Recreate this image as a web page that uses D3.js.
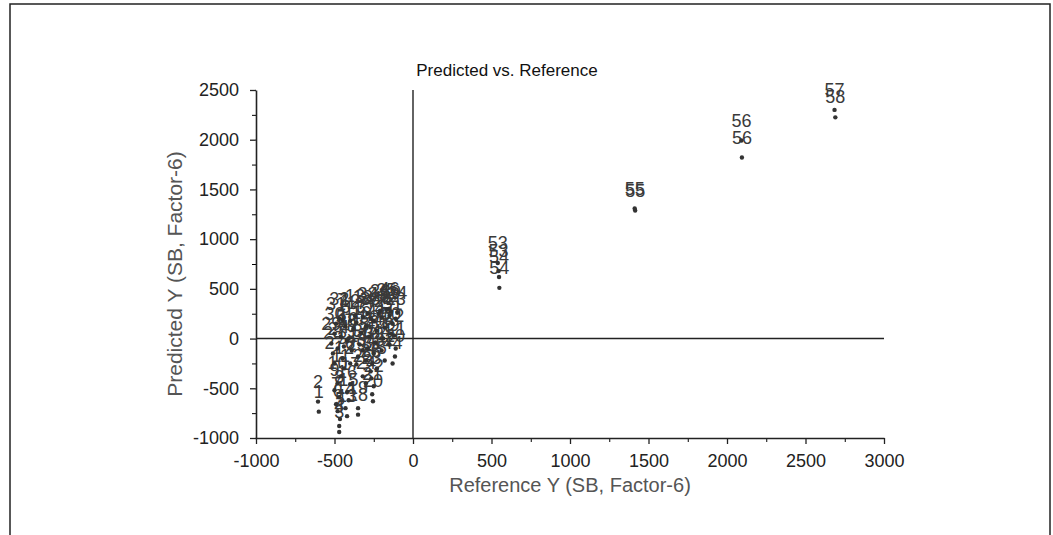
<!DOCTYPE html>
<html>
<head>
<meta charset="utf-8">
<script src="https://cdn.jsdelivr.net/npm/d3@7"></script>
<style>
  body { margin: 0; background: #fff; }
  text { font-family: Arial, "Liberation Sans", sans-serif; }
</style>
</head>
<body>
<script>
// Sample ids, reference and predicted values
var sampleIds = [
  1, 2, 3, 4, 5, 6, 7, 8, 9, 10,
  11, 12, 13, 14, 15, 16, 17, 18, 19, 20,
  21, 22, 23, 24, 25, 26, 27, 28, 29, 30,
  31, 32, 3, 4, 5, 6, 7, 8, 9, 10,
  11, 12, 13, 14, 15, 16, 17, 18, 33, 34,
  35, 36, 37, 38, 39, 40, 41, 42, 43, 44,
  45, 46, 47, 48, 49, 50, 51, 52, 19, 20,
  21, 22, 23, 24, 25, 26, 27, 28, 29, 30,
  31, 32, 44, 45,
  53, 53, 54, 54, 55, 55, 56, 56, 57, 58
];
var referenceY = [
  -600, -605, -470, -470, -465, -480, -490, -470, -500, -480,
  -460, -440, -420, -430, -410, -420, -400, -350, -350, -255,
  -260, -250, -265, -300, -320, -270, -500, -510, -520, -500,
  -490, -470, -450, -440, -460, -430, -450, -400, -390, -410,
  -380, -400, -370, -350, -340, -330, -360, -320, -290, -300,
  -290, -280, -300, -270, -250, -240, -230, -250, -220, -200,
  -190, -150, -180, -200, -150, -140, -130, -150, -140, -115,
  -110, -120, -110, -100, -170, -210, -480, -420, -360, -320,
  -260, -180, -130, -230,
  540, 545, 548, 550, 1412, 1415, 2092, 2095, 2685, 2690
];
var predictedY = [
  -735, -634, -940, -880, -810, -730, -660, -590, -520, -450,
  -380, -300, -780, -700, -620, -540, -460, -765, -700, -630,
  -560, -480, -400, -450, -380, -330, -250, -150, -50, 50,
  150, 200, -200, -80, 20, 120, 190, -250, -120, 0,
  100, 180, 230, -180, -60, 60, 160, 220, 250, -220,
  -100, 20, 120, 200, -150, -40, 80, 180, 250, -120,
  0, 300, 110, 210, -60, 50, 150, 230, 270, -180,
  -100, 30, 200, 260, 290, 280, -100, -20, -260, -120,
  -250, -220, -250, -300,
  760, 680, 620, 510, 1308, 1288, 1992, 1821, 2300, 2225
];
var xTicks = [-1000, -500, 0, 500, 1000, 1500, 2000, 2500, 3000];
var yTicks = [-1000, -500, 0, 500, 1000, 1500, 2000, 2500];

var svgWidth = 1053, svgHeight = 535;
var margin = {top: 90, right: 169, bottom: 97, left: 256};
var width = svgWidth - margin.left - margin.right;
var height = svgHeight - margin.top - margin.bottom;

var svg = d3.select("body").append("svg")
  .attr("width", svgWidth)
  .attr("height", svgHeight);

// scanned page border
svg.append("rect")
  .attr("x", 10).attr("y", 4)
  .attr("width", 1040).attr("height", 560)
  .attr("fill", "none")
  .attr("stroke", "#222")
  .attr("stroke-width", 1.5);

var chartGroup = svg.append("g")
  .attr("transform", `translate(${margin.left}, ${margin.top})`);

var x = d3.scaleLinear().domain([-1000, 3000]).range([0, width]);
var y = d3.scaleLinear().domain([-1000, 2500]).range([height, 0]);

// minor ticks
var xMinor = d3.range(-750, 3000, 500);
var yMinor = d3.range(-750, 2500, 500);
chartGroup.append("g")
  .attr("transform", `translate(0, ${height})`)
  .call(d3.axisBottom(x).tickValues(xMinor).tickSize(4).tickFormat(""))
  .call(g => g.select(".domain").remove());
chartGroup.append("g")
  .call(d3.axisLeft(y).tickValues(yMinor).tickSize(4).tickFormat(""))
  .call(g => g.select(".domain").remove());

// major axes
var plain = d => String(d);
var xAxis = chartGroup.append("g")
  .attr("transform", `translate(0, ${height})`)
  .call(d3.axisBottom(x).tickValues(xTicks).tickFormat(plain).tickSize(6).tickSizeOuter(0).tickPadding(10));
var yAxis = chartGroup.append("g")
  .call(d3.axisLeft(y).tickValues(yTicks).tickFormat(plain).tickSize(6).tickSizeOuter(0).tickPadding(11));

[xAxis, yAxis].forEach(function(a) {
  a.selectAll("text").style("font-size", "18px").attr("fill", "#222");
  a.selectAll("line").attr("stroke", "#222").attr("stroke-width", 1.3);
  a.select(".domain").attr("stroke", "#222").attr("stroke-width", 1.6);
});

// zero lines
chartGroup.append("line")
  .attr("x1", 0).attr("x2", width)
  .attr("y1", y(0)).attr("y2", y(0))
  .attr("stroke", "#222").attr("stroke-width", 1.4);
chartGroup.append("line")
  .attr("x1", x(0)).attr("x2", x(0))
  .attr("y1", 0).attr("y2", height)
  .attr("stroke", "#222").attr("stroke-width", 1.4);

var points = sampleIds.map(function(id, i) {
  return {id: id, ref: referenceY[i], pred: predictedY[i]};
});

// sample labels above each point
chartGroup.append("g")
  .selectAll("text")
  .data(points)
  .enter()
  .append("text")
  .attr("x", d => x(d.ref))
  .attr("y", d => y(d.pred) - 14)
  .attr("text-anchor", "middle")
  .style("font-size", "18px")
  .attr("fill", "#3a3a3a")
  .text(d => d.id);

chartGroup.append("g")
  .selectAll("circle")
  .data(points)
  .enter()
  .append("circle")
  .attr("cx", d => x(d.ref))
  .attr("cy", d => y(d.pred))
  .attr("r", 2.2)
  .attr("fill", "#333");

// titles
svg.append("text")
  .attr("x", 507).attr("y", 76)
  .attr("text-anchor", "middle")
  .style("font-size", "17px")
  .attr("fill", "#111")
  .text("Predicted vs. Reference");

svg.append("text")
  .attr("x", margin.left + width / 2).attr("y", 492)
  .attr("text-anchor", "middle")
  .style("font-size", "20px")
  .attr("fill", "#555")
  .text("Reference Y (SB, Factor-6)");

svg.append("text")
  .attr("transform", "translate(182, 274) rotate(-90)")
  .attr("text-anchor", "middle")
  .style("font-size", "21px")
  .attr("fill", "#555")
  .text("Predicted Y (SB, Factor-6)");
</script>
</body>
</html>
